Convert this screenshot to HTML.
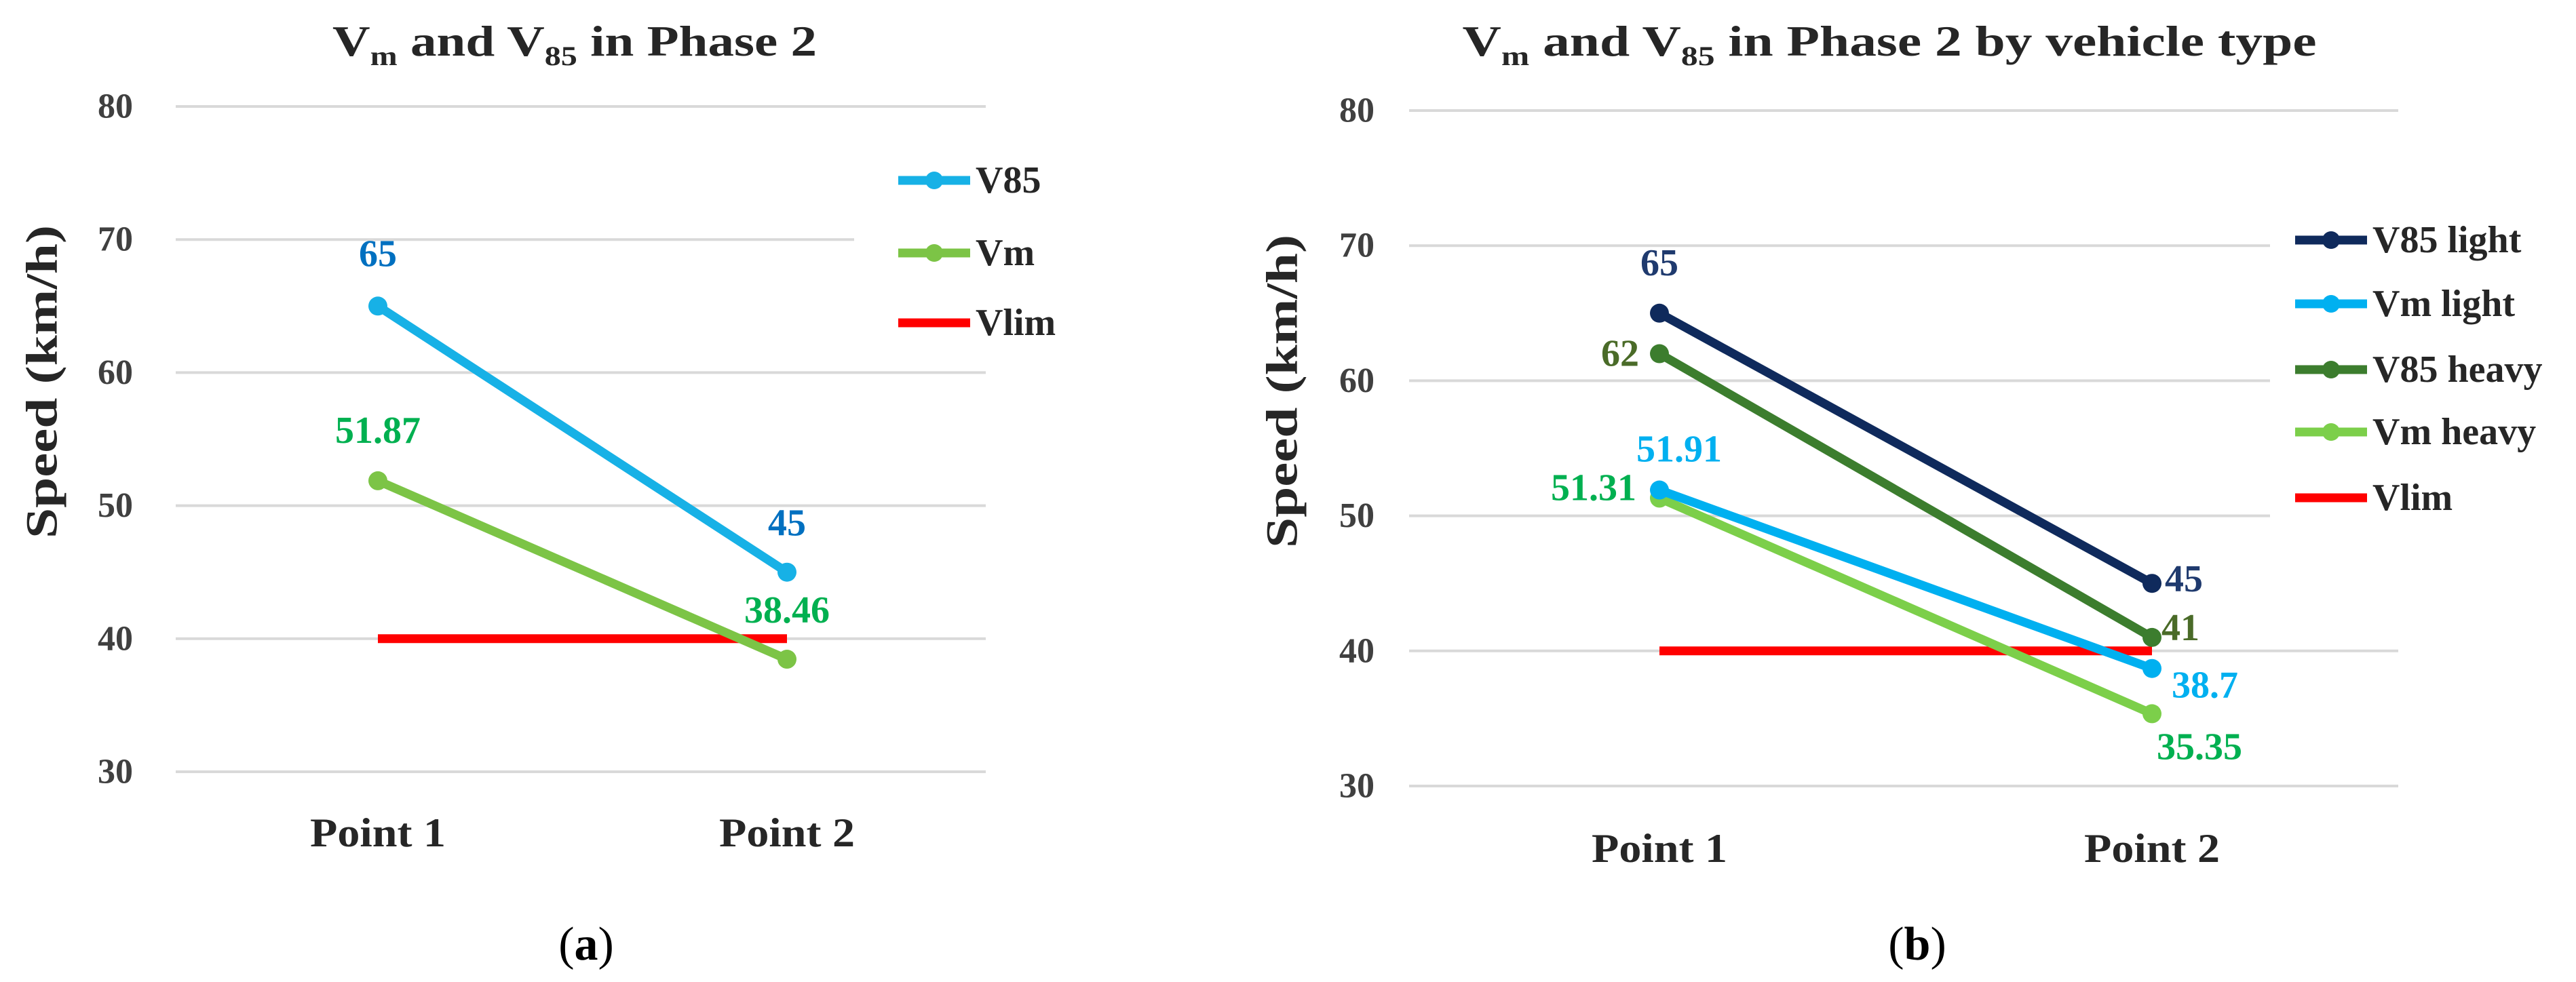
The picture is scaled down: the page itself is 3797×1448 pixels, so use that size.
<!DOCTYPE html>
<html><head><meta charset="utf-8"><style>
html,body{margin:0;padding:0;background:#fff;}
svg{display:block;font-family:"Liberation Serif",serif;}
</style></head><body>
<svg id="fig" width="3797" height="1448" viewBox="0 0 3797 1448" xmlns="http://www.w3.org/2000/svg"></svg>
<script>
const categories = ["Point 1", "Point 2"];
const yTicks = [30, 40, 50, 60, 70, 80];
// Chart a
const aV85 = [65, 45];
const aVm = [51.87, 38.46];
const aVlim = [40, 40];
// Chart b
const bV85Light = [65, 45];
const bVmLight = [51.91, 38.7];
const bV85Heavy = [62, 41];
const bVmHeavy = [51.31, 35.35];
const bVlim = [40, 40];

const NS = "http://www.w3.org/2000/svg";
const svg = document.getElementById("fig");
function mk(tag, attrs, parent, text) {
  const e = document.createElementNS(NS, tag);
  for (const k in attrs) e.setAttribute(k, attrs[k]);
  if (text !== undefined) e.textContent = text;
  (parent || svg).appendChild(e);
  return e;
}

function chart(cfg) {
  const g = mk("g", {});
  
  
  const y = v => cfg.yTop + (80 - v) / 50 * (cfg.yBot - cfg.yTop);
  const x = i => cfg.xs[i];
  // title
  const t = mk("text", {x: cfg.titleX, y: cfg.titleY, "text-anchor": "middle", "font-size": 64, "font-weight": "bold", fill: "#262626", textLength: cfg.titleW, lengthAdjust: "spacingAndGlyphs"}, g);
  
  
  mk("tspan", {}, t, "V");
  mk("tspan", {"font-size": 40, dy: 14}, t, "m");
  mk("tspan", {dy: -14}, t, " and V");
  mk("tspan", {"font-size": 40, dy: 14}, t, "85");
  mk("tspan", {dy: -14}, t, " in Phase 2" + cfg.titleSuffix);
  // grid + ticks
  yTicks.forEach(v => {
    const x2 = cfg.cutTicks.includes(v) ? cfg.cutX : cfg.gridR;
    const gl = mk("line", {x1: cfg.gridL, x2: x2, y1: y(v), y2: y(v), stroke: "#d9d9d9", "stroke-width": 4}, g);
    
    
    const tl = mk("text", {x: cfg.tickX, y: y(v), "dominant-baseline": "central", "text-anchor": "end", "font-size": 52, "font-weight": "bold", fill: "#404040"}, g, v);
    
    
  });
  categories.forEach((c, i) => {
    const cl = mk("text", {x: x(i), y: cfg.catY, "dominant-baseline": "central", "text-anchor": "middle", "font-size": 60, "font-weight": "bold", fill: "#262626", textLength: 200, lengthAdjust: "spacingAndGlyphs"}, g, c);
    
    
  });
  // y-axis title
  const yt = mk("text", {x: 0, y: 0, transform: `translate(${cfg.yTitleX},${cfg.yTitleY}) rotate(-90)`, "dominant-baseline": "central", "text-anchor": "middle", "font-size": 66, "font-weight": "bold", fill: "#262626", textLength: 462, lengthAdjust: "spacingAndGlyphs"}, g, "Speed (km/h)");
  
  
  // series
  cfg.series.forEach(s => {
    const p = mk("polyline", {points: s.vals.map((v, i) => x(i) + "," + y(v)).join(" "), fill: "none", stroke: s.color, "stroke-width": 13}, g);
    
    
    if (s.marker) s.vals.forEach((v, i) => {
      const c = mk("circle", {cx: x(i), cy: y(v), r: 14, fill: s.color}, g);
      
      
    });
    if (s.labels) s.vals.forEach((v, i) => {
      const L = s.labels[i];
      const lt = mk("text", {x: x(i) + L[0], y: y(v) + L[1], "dominant-baseline": "central", "text-anchor": L[2], "font-size": 56, "font-weight": "bold", fill: s.labelColor}, g, v);
      
      
    });
  });
  // legend
  cfg.series.slice().sort((a, b) => a.legendOrder - b.legendOrder).forEach((s, k) => {
    const ly = cfg.legendY[k];
    const lg = mk("g", {}, g);
    
    
    mk("line", {x1: cfg.legX, x2: cfg.legX + 106, y1: ly, y2: ly, stroke: s.color, "stroke-width": 13}, lg);
    if (s.marker) mk("circle", {cx: cfg.legX + 53, cy: ly, r: 13, fill: s.color}, lg);
    mk("text", {x: cfg.legX + 114, y: ly, "dominant-baseline": "central", "font-size": 56, "font-weight": "bold", fill: "#262626"}, lg, s.name);
  });
  const sub = mk("text", {x: cfg.subX, y: 1392, "dominant-baseline": "central", "text-anchor": "middle", "font-size": 70, fill: "#000"}, g);
  
  
  mk("tspan", {}, sub, "(");
  mk("tspan", {"font-weight": "bold"}, sub, cfg.subLetter);
  mk("tspan", {}, sub, ")");
}

chart({
  name: "chart-a", yTop: 157, yBot: 1138, xs: [557, 1160], gridL: 259, gridR: 1453, cutX: 1259, cutTicks: [70],
  tickX: 196, catY: 1228, titleX: 847, titleY: 82, titleW: 714, titleSuffix: "", yTitleX: 62, yTitleY: 563,
  subX: 864, subLetter: "a", legX: 1324, legendY: [266, 373, 476],
  series: [
    {key: "vlim", name: "Vlim", vals: aVlim, color: "#ff0000", marker: false, legendOrder: 2},
    {key: "vm", name: "Vm", vals: aVm, color: "#7cc446", marker: true, labelColor: "#00b050", labels: [[0, -74, "middle"], [0, -72, "middle"]], legendOrder: 1},
    {key: "v85", name: "V85", vals: aV85, color: "#17b1e6", marker: true, labelColor: "#0070c0", labels: [[0, -77, "middle"], [0, -72, "middle"]], legendOrder: 0}
  ]
});

chart({
  name: "chart-b", yTop: 163, yBot: 1159, xs: [2446, 3172], gridL: 2077, gridR: 3535, cutX: 3346, cutTicks: [70, 60, 50],
  tickX: 2026, catY: 1251, titleX: 2785, titleY: 82, titleW: 1259, titleSuffix: " by vehicle type", yTitleX: 1890, yTitleY: 577,
  subX: 2826, subLetter: "b", legX: 3383, legendY: [354, 448, 545, 637, 734],
  series: [
    {key: "vlim", name: "Vlim", vals: bVlim, color: "#ff0000", marker: false, legendOrder: 4},
    {key: "vm-heavy", name: "Vm heavy", vals: bVmHeavy, color: "#7ccf4a", marker: true, labelColor: "#00b050", labels: [[-34, -15, "end"], [7, 49, "start"]], legendOrder: 3},
    {key: "vm-light", name: "Vm light", vals: bVmLight, color: "#00b0f0", marker: true, labelColor: "#00b0f0", labels: [[29, -60, "middle"], [29, 25, "start"]], legendOrder: 1},
    {key: "v85-heavy", name: "V85 heavy", vals: bV85Heavy, color: "#3c7d2e", marker: true, labelColor: "#4a6b28", labels: [[-30, 0, "end"], [14, -14, "start"]], legendOrder: 2},
    {key: "v85-light", name: "V85 light", vals: bV85Light, color: "#0f2a5c", marker: true, labelColor: "#1f3a6e", labels: [[0, -74, "middle"], [19, -6, "start"]], legendOrder: 0}
  ]
});
</script>
</body></html>
